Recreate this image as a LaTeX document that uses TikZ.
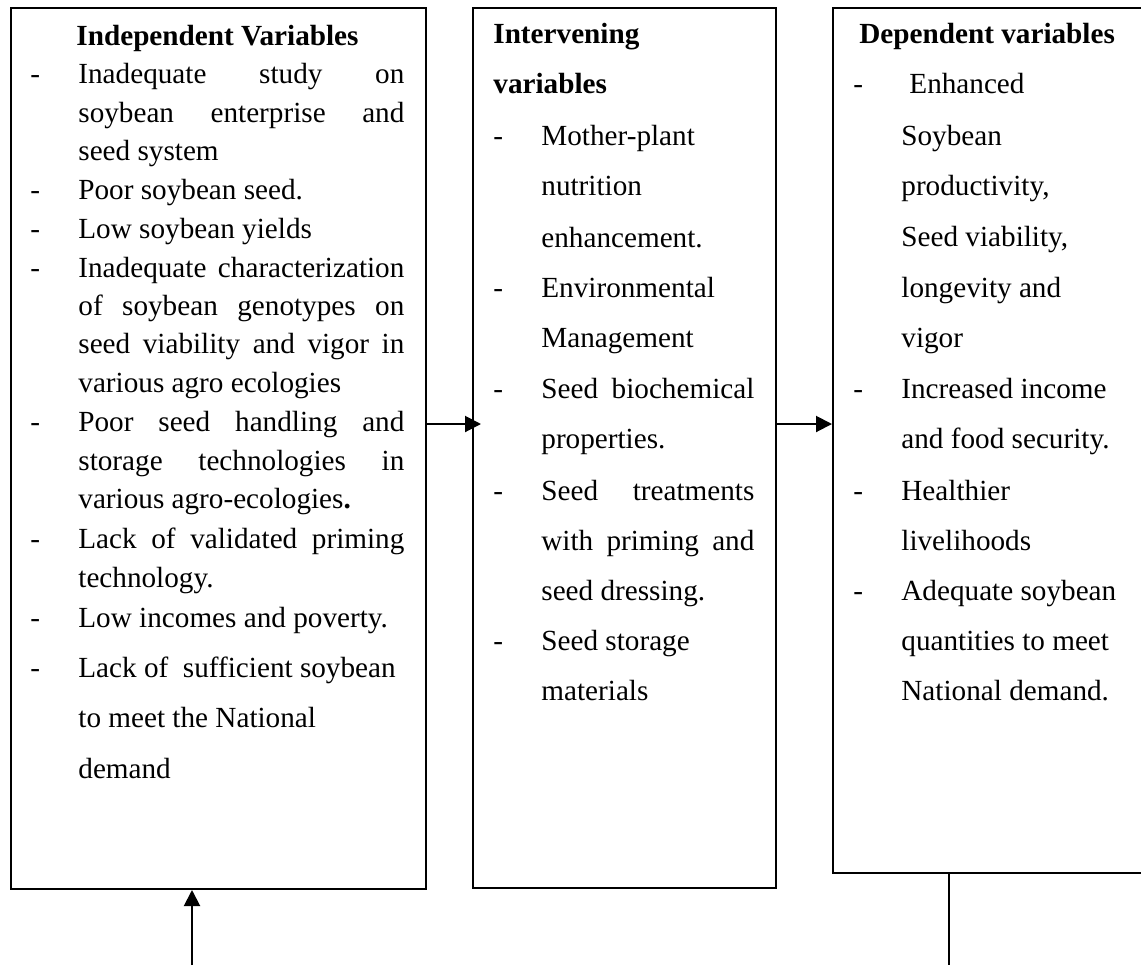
\documentclass[tikz,border=0pt]{standalone}
\usepackage{fontspec}
\setmainfont{Liberation Serif}
\usetikzlibrary{arrows.meta}
\newcommand\jusline[2]{\makebox[#1][s]{#2}}
\begin{document}
\begin{tikzpicture}[x=0.5pt,y=-0.5pt,
  box/.style={draw, line width=1pt, inner sep=0pt, anchor=north west},
  txt/.style={anchor=base west, inner sep=0pt, font=\fontsize{14.6pt}{17pt}\selectfont},
  hd/.style={txt, font=\fontsize{14.6pt}{17pt}\selectfont\bfseries},
  arr/.style={line width=1pt, -{Triangle[length=8pt,width=8pt]}},
  lin/.style={line width=1pt}]
\useasboundingbox (0,0) rectangle (1141,965);
% boxes
\node[box, minimum width=207.5pt, minimum height=440.5pt] (b1) at (10,7) {};
\node[box, minimum width=151.5pt, minimum height=440pt] (b2) at (472,7) {};
\node[box, minimum width=156pt, minimum height=432.5pt] (b3) at (832,7) {};
% box 1 text
\node[hd, anchor=base] (a0) at (217.5,45) {Independent Variables};
\foreach \yy [count=\i] in {83,199,238,277,431,548,627,677}
  \node[txt] (ad\i) at (30,\yy) {-};
\node[txt] (a1) at (78,83) {\jusline{163pt}{Inadequate study on}};
\node[txt] (a2) at (78,122) {\jusline{163pt}{soybean enterprise and}};
\node[txt] (a3) at (78,160) {seed system};
\node[txt] (a4) at (78,199) {Poor soybean seed.};
\node[txt] (a5) at (78,238) {Low soybean yields};
\node[txt] (a6) at (78,277) {\jusline{163pt}{Inadequate characterization}};
\node[txt] (a7) at (78,315) {\jusline{163pt}{of soybean genotypes on}};
\node[txt] (a8) at (78,353) {\jusline{163pt}{seed viability and vigor in}};
\node[txt] (a9) at (78,392) {various agro ecologies};
\node[txt] (a10) at (78,431) {\jusline{163pt}{Poor seed handling and}};
\node[txt] (a11) at (78,470) {\jusline{163pt}{storage technologies in}};
\node[txt] (a12) at (78,508) {various agro-ecologies\textbf{.}};
\node[txt] (a13) at (78,548) {\jusline{163pt}{Lack of validated priming}};
\node[txt] (a14) at (78,587) {technology.};
\node[txt] (a15) at (78,627) {Low incomes and poverty.};
\node[txt] (a16) at (78,677) {Lack of\ \ sufficient soybean};
\node[txt] (a17) at (78,727) {to meet the National};
\node[txt] (a18) at (78,778) {demand};
% box 2 text
\node[hd] (i0) at (493,43) {Intervening};
\node[hd] (i00) at (493,93) {variables};
\foreach \yy [count=\i] in {145,297,398,500,650}
  \node[txt] (id\i) at (493,\yy) {-};
\node[txt] (i1) at (541,145) {Mother-plant};
\node[txt] (i2) at (541,195) {nutrition};
\node[txt] (i3) at (541,247) {enhancement.};
\node[txt] (i4) at (541,297) {Environmental};
\node[txt] (i5) at (541,347) {Management};
\node[txt] (i6) at (541,398) {\jusline{106.5pt}{Seed biochemical}};
\node[txt] (i7) at (541,448) {properties.};
\node[txt] (i8) at (541,500) {\jusline{106.5pt}{Seed treatments}};
\node[txt] (i9) at (541,550) {\jusline{106.5pt}{with priming and}};
\node[txt] (i10) at (541,600) {seed dressing.};
\node[txt] (i11) at (541,650) {Seed storage};
\node[txt] (i12) at (541,700) {materials};
% box 3 text
\node[hd] (d0) at (859,43) {Dependent variables};
\foreach \yy [count=\i] in {93,398,500,600}
  \node[txt] (dd\i) at (853,\yy) {-};
\node[txt] (d1) at (909,93) {Enhanced};
\node[txt] (d2) at (901,145) {Soybean};
\node[txt] (d3) at (901,195) {productivity,};
\node[txt] (d4) at (901,246) {Seed viability,};
\node[txt] (d5) at (901,297) {longevity and};
\node[txt] (d6) at (901,347) {vigor};
\node[txt] (d7) at (901,398) {Increased income};
\node[txt] (d8) at (901,448) {and food security.};
\node[txt] (d9) at (901,500) {Healthier};
\node[txt] (d10) at (901,550) {livelihoods};
\node[txt] (d11) at (901,600) {Adequate soybean};
\node[txt] (d12) at (901,650) {quantities to meet};
\node[txt] (d13) at (901,700) {National demand.};
% connectors
\coordinate (ya) at (0,424);
\coordinate (bot1) at (192,965);
\coordinate (bot3) at (949,965);
\draw[arr, shorten >=-4.5pt, shorten <=-1pt] (b1.east |- ya) -- (b2.west |- ya);
\draw[arr] (b2.east |- ya) -- (b3.west |- ya);
\draw[arr] (bot1) -- (bot1 |- b1.south);
\draw[lin] (bot3 |- b3.south) -- (bot3);
\end{tikzpicture}
\end{document}
